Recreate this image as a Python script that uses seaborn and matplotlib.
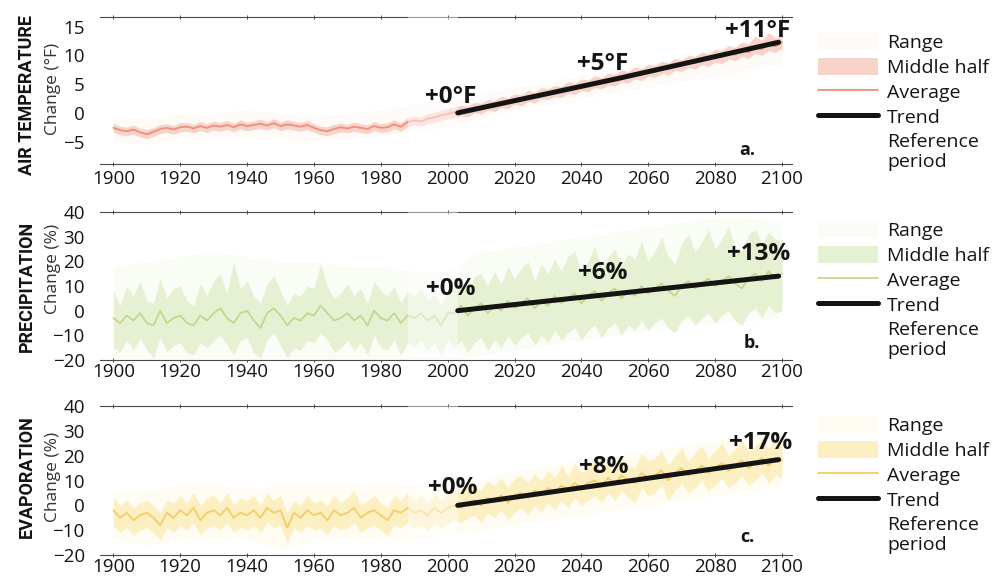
import pandas as pd
import matplotlib.pyplot as plt
from matplotlib.patches import Patch
from matplotlib.lines import Line2D
import seaborn as sns

# ── data (2-year steps 1900-2100) ──
YEARS = list(range(1900, 2101, 2))
RANGE_YEARS = list(range(1900, 2101, 10))
TICK_YEARS = [1900, 1920, 1940, 1960, 1980, 2000, 2020, 2040, 2060, 2080, 2100]
TREND_YEARS = [2003, 2051, 2099]
REF_PERIOD = [1988, 2003]

# a. air temperature (°F)
TEMP_AVG = [-2.6, -3.0, -3.2, -2.9, -3.4, -3.7, -3.3, -2.8, -2.6, -2.9,
            -2.5, -2.4, -2.7, -2.3, -2.6, -2.2, -2.4, -2.1, -2.5, -2.0,
            -2.3, -2.1, -1.9, -2.2, -1.8, -2.3, -2.0, -2.2, -2.4, -2.1,
            -2.6, -3.0, -3.2, -2.8, -2.5, -2.7, -2.4, -2.6, -2.8, -2.3,
            -2.6, -2.5, -2.0, -2.4, -1.6, -1.3, -1.5, -1.0, -0.8, -0.4,
            -0.2,
            0.1, 0.4, 0.3, 0.9, 0.8, 1.4, 1.2, 1.9, 1.7, 2.4,
            2.2, 2.9, 2.7, 3.4, 3.3, 3.8, 3.7, 4.4, 4.2, 4.9,
            4.7, 5.4, 5.2, 5.8, 5.7, 6.4, 6.2, 6.9, 6.7, 7.4,
            7.2, 7.9, 7.7, 8.4, 8.2, 8.9, 8.7, 9.4, 9.2, 9.9,
            9.7, 10.4, 10.2, 10.9, 10.6, 11.5, 11.1, 12.0, 11.6, 12.3]
TEMP_MID_HI = [-1.8, -2.3, -2.5, -2.1, -2.7, -2.9, -2.6, -2.0, -1.9, -2.2,
               -1.7, -1.7, -2.0, -1.5, -1.9, -1.4, -1.7, -1.3, -1.8, -1.2,
               -1.6, -1.4, -1.1, -1.5, -1.0, -1.6, -1.2, -1.5, -1.7, -1.3,
               -1.9, -2.3, -2.4, -2.0, -1.8, -2.0, -1.6, -1.9, -2.1, -1.5,
               -1.9, -1.7, -1.2, -1.7, -0.8, -0.5, -0.7, -0.1, 0.1, 0.5,
               0.8,
               1.0, 1.3, 1.2, 1.8, 1.7, 2.3, 2.1, 2.9, 2.6, 3.3,
               3.1, 3.9, 3.6, 4.4, 4.2, 4.8, 4.6, 5.5, 5.1, 5.9,
               5.7, 6.5, 6.1, 6.9, 6.7, 7.5, 7.2, 8.0, 7.7, 8.5,
               8.2, 9.0, 8.7, 9.5, 9.2, 10.0, 9.8, 10.6, 10.3, 11.1,
               10.9, 11.7, 11.4, 12.3, 12.0, 13.4, 12.6, 14.0, 13.0, 13.5]
TEMP_MID_LO = [-3.4, -3.8, -4.0, -3.7, -4.2, -4.5, -4.1, -3.6, -3.4, -3.7,
               -3.3, -3.2, -3.5, -3.1, -3.4, -3.0, -3.2, -2.9, -3.3, -2.8,
               -3.1, -2.9, -2.7, -3.0, -2.6, -3.1, -2.8, -3.0, -3.2, -2.9,
               -3.4, -3.8, -4.0, -3.6, -3.3, -3.5, -3.2, -3.4, -3.6, -3.1,
               -3.4, -3.3, -2.8, -3.2, -2.4, -2.1, -2.3, -1.9, -1.7, -1.3,
               -1.1,
               -0.8, -0.5, -0.7, 0.0, -0.2, 0.5, 0.2, 1.0, 0.7, 1.5,
               1.2, 2.0, 1.7, 2.5, 2.3, 2.8, 2.7, 3.4, 3.2, 3.9,
               3.7, 4.4, 4.2, 4.8, 4.7, 5.4, 5.2, 5.9, 5.6, 6.4,
               6.2, 6.9, 6.6, 7.4, 7.2, 7.9, 7.6, 8.4, 8.1, 8.9,
               8.6, 9.4, 9.1, 9.8, 9.5, 10.4, 10.0, 10.9, 10.5, 11.2]
TEMP_RNG_LO = [-5.0, -5.5, -4.5, -4.5, -4.5, -4.5, -5.0, -4.5, -4.0, -3.0, -2.5,
               -1.0, 0.5, 1.5, 2.5, 3.5, 4.5, 5.5, 6.5, 7.5, 8.5]
TEMP_RNG_HI = [-0.5, -1.0, 0.0, 0.0, 0.5, 0.0, -0.5, 0.0, 0.5, 1.5, 2.0,
               3.5, 4.5, 5.5, 6.5, 7.5, 8.5, 9.5, 11.0, 12.5, 15.0]
TEMP_TREND = [0.0, 6.0, 12.3]

# b. precipitation (%)
PRECIP_AVG = [-3, -5, -2, -4, -1, -5, -6, 0, -5, -3,
              -2, -5, -6, -2, -4, -1, 1, -3, -5, -1,
              0, -4, -7, -1, 1, -2, -6, -3, -4, -1,
              -2, 2, -1, -4, -3, -1, -4, -2, -6, 0,
              -3, -4, -1, -5, -2, -3, -1, -4, -2, -6,
              -1,
              -1, 2, -2, 1, 3, -1, 2, 0, 4, 1,
              3, 5, 1, 4, 2, 6, 3, 5, 7, 3,
              6, 8, 4, 7, 9, 5, 8, 6, 10, 7,
              9, 11, 8, 6, 10, 12, 9, 11, 13, 10,
              12, 14, 11, 9, 13, 15, 12, 16, 13, 15]
PRECIP_MID_HI = [8, 2, 10, 6, 12, 4, 3, 13, 5, 9,
                 10, 4, 2, 11, 6, 12, 15, 7, 20, 9,
                 12, 6, 3, 11, 14, 8, 2, 7, 6, 10,
                 9, 19, 10, 5, 7, 11, 6, 9, 3, 12,
                 8, 6, 10, 3, 8, 6, 9, 4, 7, 2,
                 8,
                 9, 12, 7, 14, 15, 10, 16, 11, 18, 13,
                 17, 20, 12, 19, 15, 21, 16, 22, 24, 15,
                 20, 26, 17, 22, 25, 18, 23, 21, 28, 20,
                 24, 30, 22, 19, 27, 31, 24, 28, 33, 25,
                 29, 34, 26, 24, 31, 33, 27, 32, 29, 28]
PRECIP_MID_LO = [-15, -17, -12, -16, -11, -16, -19, -11, -17, -14,
                 -13, -17, -18, -13, -15, -12, -10, -14, -18, -12,
                 -11, -17, -19, -12, -9, -14, -19, -15, -16, -12,
                 -13, -9, -12, -17, -15, -12, -16, -13, -18, -10,
                 -15, -16, -12, -18, -13, -15, -12, -16, -13, -18,
                 -12,
                 -15, -12, -17, -13, -11, -16, -12, -15, -10, -14,
                 -11, -9, -14, -10, -13, -8, -12, -9, -7, -12,
                 -8, -6, -11, -7, -5, -10, -6, -8, -4, -8,
                 -5, -3, -7, -9, -4, -2, -6, -3, -1, -5,
                 -2, 0, -4, -6, -1, 1, -3, 2, -1, 0]
PRECIP_RNG_LO = [-20, -20, -20, -20, -20, -20, -20, -20, -20, -20, -20,
                 -18, -16, -14, -12, -10, -8, -6, -5, -4, -3]
PRECIP_RNG_HI = [18, 20, 22, 24, 22, 20, 20, 18, 18, 16, 16,
                 24, 26, 28, 30, 32, 34, 36, 38, 38, 36]
PRECIP_TREND = [0.0, 7.0, 14.0]

# c. evaporation (%)
EVAP_AVG = [-2, -5, -3, -6, -4, -3, -5, -8, -3, -5,
            -2, -4, -1, -6, -3, -2, -4, -1, -5, -3,
            -4, -2, -5, -1, -3, -2, -9, -3, -5, -2,
            -4, -3, -6, -2, -4, -3, -1, -5, -3, -2,
            -4, -6, -2, -3, -1, -3, -2, -4, -1, -3,
            -1,
            0, -1, 1, 2, 0, 3, 2, 4, 1, 4,
            5, 3, 6, 4, 7, 5, 8, 6, 9, 7,
            9, 10, 8, 11, 9, 12, 10, 9, 13, 11,
            12, 14, 10, 13, 15, 12, 14, 16, 13, 15,
            17, 14, 16, 18, 15, 17, 19, 16, 19, 18]
EVAP_MID_HI = [3, 0, 2, -1, 1, 2, 0, -3, 2, 1,
               4, 1, 5, 0, 3, 4, 1, 5, 0, 3,
               2, 4, 0, 5, 2, 4, -3, 2, 0, 4,
               1, 2, 0, 4, 1, 3, 6, 0, 2, 4,
               1, -1, 4, 2, 5, 2, 4, 1, 5, 2,
               4,
               6, 5, 8, 8, 6, 10, 8, 11, 7, 11,
               12, 9, 13, 10, 14, 11, 16, 12, 17, 13,
               16, 18, 14, 19, 15, 20, 16, 15, 21, 18,
               19, 22, 16, 20, 23, 18, 21, 24, 19, 22,
               25, 20, 23, 26, 22, 24, 27, 23, 26, 25]
EVAP_MID_LO = [-8, -11, -9, -12, -10, -9, -11, -14, -9, -11,
               -8, -10, -7, -12, -9, -8, -10, -7, -11, -9,
               -10, -8, -11, -7, -9, -8, -15, -9, -11, -8,
               -10, -9, -12, -8, -10, -9, -7, -11, -9, -8,
               -10, -12, -8, -9, -7, -9, -8, -10, -7, -9,
               -7,
               -6, -7, -5, -4, -7, -3, -5, -2, -6, -3,
               -1, -4, 0, -3, 1, -2, 2, -1, 3, 0,
               2, 4, 1, 5, 2, 6, 3, 1, 7, 4,
               5, 8, 2, 6, 9, 5, 7, 10, 6, 8,
               11, 7, 9, 12, 8, 10, 13, 9, 12, 11]
EVAP_RNG_LO = [-14, -16, -14, -14, -14, -18, -14, -14, -14, -14, -12,
               -10, -8, -6, -4, -2, 0, 2, 4, 6, 8]
EVAP_RNG_HI = [6, 6, 8, 8, 7, 8, 8, 8, 9, 8, 9,
               10, 14, 16, 18, 20, 22, 24, 26, 28, 30]
EVAP_TREND = [0.0, 9.2, 18.4]

# ── style ──
sns.set_theme(style="white")
plt.rcParams["font.family"] = ["Open Sans", "DejaVu Sans"]
INK = "#141414"
SPINE = "#4a4a4a"

W, H = 1002, 576
fig = plt.figure(figsize=(W / 100, H / 100), dpi=100)
fig.patch.set_facecolor("white")


def px_box(top, bottom, left=100, right=792):
    return [left / W, 1 - bottom / H, (right - left) / W, (bottom - top) / H]


panels = [
    dict(avg=TEMP_AVG, lo=TEMP_MID_LO, hi=TEMP_MID_HI,
         rlo=TEMP_RNG_LO, rhi=TEMP_RNG_HI, trend=TEMP_TREND,
         box=px_box(17, 164), ylim=(-8.9, 16.7), yticks=[-5, 0, 5, 10, 15],
         line="#ef8e7c", band="#f8d3c9", rng="#fefaf8",
         name="AIR TEMPERATURE", name_y=95, unit="Change (°F)", unit_y=89,
         labels=["+0°F", "+5°F", "+11°F"],
         label_pos=[(2001, 2.8), (2046.4, 8.6), (2092.8, 14.2)],
         letter="a.", letter_pos=(0.935, 0.095), leg_top=33, xpad=2.5),
    dict(avg=PRECIP_AVG, lo=PRECIP_MID_LO, hi=PRECIP_MID_HI,
         rlo=PRECIP_RNG_LO, rhi=PRECIP_RNG_HI, trend=PRECIP_TREND,
         box=px_box(212, 360), ylim=(-20, 40), yticks=[-20, -10, 0, 10, 20, 30, 40],
         line="#c3d78f", band="#e6f1d3", rng="#fafdf6",
         name="PRECIPITATION", name_y=286, unit="Change (%)", unit_y=269,
         labels=["+0%", "+6%", "+13%"],
         label_pos=[(2001, 8.9), (2046.5, 15.3), (2093, 23)],
         letter="b.", letter_pos=(0.942, 0.115), leg_top=221, xpad=1.0),
    dict(avg=EVAP_AVG, lo=EVAP_MID_LO, hi=EVAP_MID_HI,
         rlo=EVAP_RNG_LO, rhi=EVAP_RNG_HI, trend=EVAP_TREND,
         box=px_box(406, 555), ylim=(-20, 40), yticks=[-20, -10, 0, 10, 20, 30, 40],
         line="#f5cd66", band="#fcf0c2", rng="#fffcf3",
         name="EVAPORATION", name_y=477, unit="Change (%)", unit_y=477,
         labels=["+0%", "+8%", "+17%"],
         label_pos=[(2001.5, 7.1), (2046.7, 15.6), (2093.7, 25.3)],
         letter="c.", letter_pos=(0.935, 0.12), leg_top=416, xpad=0.8),
]

for p in panels:
    ax = fig.add_axes(p["box"])
    df = pd.DataFrame({"year": YEARS, "avg": p["avg"], "lo": p["lo"], "hi": p["hi"]})
    rng = pd.DataFrame({"year": RANGE_YEARS, "lo": p["rlo"], "hi": p["rhi"]})
    trend = pd.DataFrame({"year": TREND_YEARS, "value": p["trend"]})

    ax.fill_between(rng["year"], rng["lo"], rng["hi"], color=p["rng"],
                    lw=0, zorder=1)
    ax.fill_between(df["year"], df["lo"], df["hi"], color=p["band"],
                    lw=0, zorder=2)
    sns.lineplot(data=df, x="year", y="avg", ax=ax, color=p["line"],
                 lw=1.3, zorder=3, legend=False)
    ax.axvspan(REF_PERIOD[0], REF_PERIOD[1], color="white", alpha=0.45,
               lw=0, zorder=4)
    sns.lineplot(data=trend, x="year", y="value", ax=ax, color=INK, lw=3.6,
                 zorder=5, legend=False, solid_capstyle="round")

    for txt, (x, y) in zip(p["labels"], p["label_pos"]):
        ax.text(x, y, txt, ha="center", va="center", fontsize=17.5,
                fontweight="bold", color=INK, zorder=6)
    ax.text(p["letter_pos"][0], p["letter_pos"][1], p["letter"],
            transform=ax.transAxes, ha="center", va="center",
            fontsize=13, fontweight="bold", color=INK)

    ax.set_xlim(1896, 2103)
    ax.set_ylim(*p["ylim"])
    ax.set_xticks(TICK_YEARS)
    ax.set_yticks(p["yticks"])
    ax.set_xlabel("")
    ax.set_ylabel("")
    for side in ("left", "right"):
        ax.spines[side].set_visible(False)
    for side in ("top", "bottom"):
        ax.spines[side].set_color(SPINE)
        ax.spines[side].set_linewidth(0.8)
    ax.tick_params(axis="x", which="both", bottom=True, top=True,
                   direction="inout", length=3, width=0.7, color=SPINE,
                   labelsize=13.5, pad=p["xpad"], labelcolor=INK)
    ax.tick_params(axis="y", left=False, labelsize=13.5, pad=5,
                   labelcolor=INK)

    fig.text(27 / W, 1 - p["name_y"] / H, p["name"], rotation=90,
             ha="center", va="center", fontsize=13, fontweight="bold",
             color=INK, family=["Roboto", "DejaVu Sans"])
    fig.text(53 / W, 1 - p["unit_y"] / H, p["unit"], rotation=90,
             ha="center", va="center", fontsize=12.5, color="#333333")

    handles = [
        Patch(facecolor=p["rng"], edgecolor="none"),
        Patch(facecolor=p["band"], edgecolor="none"),
        Line2D([], [], color=p["line"], lw=1.3),
        Line2D([], [], color=INK, lw=3.6),
        Patch(facecolor="white", edgecolor="none"),
    ]
    names = ["Range", "Middle half", "Average", "Trend", "Reference\nperiod"]
    ax.legend(handles, names, loc="upper left",
              bbox_to_anchor=(818 / W, 1 - p["leg_top"] / H),
              bbox_transform=fig.transFigure, frameon=False,
              borderpad=0, borderaxespad=0, handlelength=3.1,
              handleheight=0.95, handletextpad=0.45, labelspacing=0.3,
              fontsize=14, labelcolor=INK)

fig.savefig("out.png", dpi=100, facecolor="white")
